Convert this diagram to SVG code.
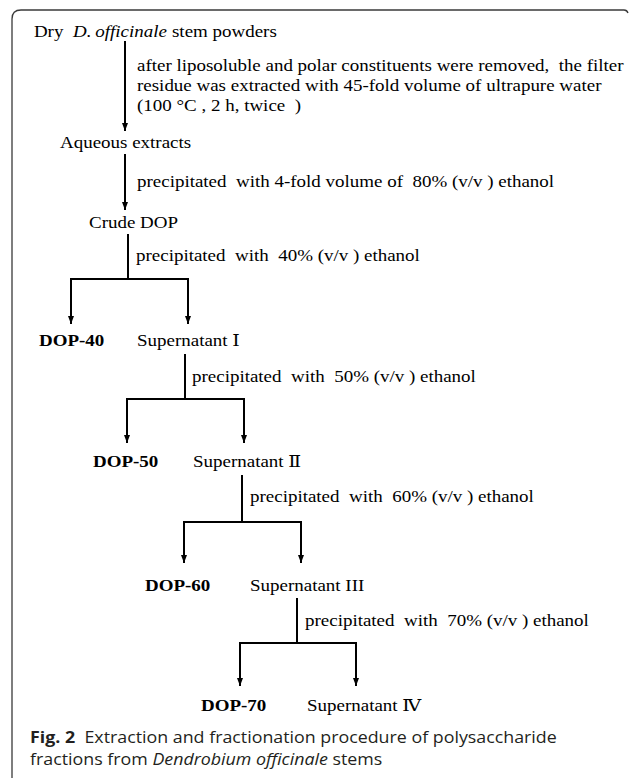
<svg xmlns="http://www.w3.org/2000/svg" width="629" height="778" viewBox="0 0 629 778" xml:space="preserve">
<style>
text{white-space:pre}
.t{font-family:"Liberation Serif","DejaVu Serif","Noto Sans CJK SC",serif;font-size:16.8px;fill:#000}
.b{font-weight:bold}
.i{font-style:italic}
.cap{font-family:"Open Sans","Liberation Sans",sans-serif;font-size:15.5px;fill:#231f20}
.ln{stroke:#000;stroke-width:2;fill:none}
.fr{stroke:#3a3a3a;stroke-width:1.3;fill:none}
</style>
<defs>
<marker id="ah" markerUnits="userSpaceOnUse" markerWidth="10" markerHeight="10" refX="8" refY="3" orient="auto">
<path d="M0,0 L8,3 L0,6 z" fill="#000"/>
</marker>
</defs>
<rect width="629" height="778" fill="#fff"/>
<path class="fr" d="M12,778 V19 Q12,10 21,10 H624 Q627,10 628,13"/>

<g id="connectors">
<line class="ln" x1="125" y1="41" x2="125" y2="131" marker-end="url(#ah)"/>
<line class="ln" x1="125" y1="154" x2="125" y2="210" marker-end="url(#ah)"/>
<line class="ln" x1="128" y1="234" x2="128" y2="279"/>
<line class="ln" x1="70" y1="279" x2="189" y2="279"/>
<line class="ln" x1="71" y1="278" x2="71" y2="324" marker-end="url(#ah)"/>
<line class="ln" x1="188" y1="278" x2="188" y2="324" marker-end="url(#ah)"/>
<line class="ln" x1="185" y1="354" x2="185" y2="399"/>
<line class="ln" x1="126" y1="399" x2="245" y2="399"/>
<line class="ln" x1="127" y1="398" x2="127" y2="443" marker-end="url(#ah)"/>
<line class="ln" x1="244" y1="398" x2="244" y2="443" marker-end="url(#ah)"/>
<line class="ln" x1="242" y1="475" x2="242" y2="522"/>
<line class="ln" x1="183" y1="522" x2="302" y2="522"/>
<line class="ln" x1="184" y1="521" x2="184" y2="563" marker-end="url(#ah)"/>
<line class="ln" x1="301" y1="521" x2="301" y2="563" marker-end="url(#ah)"/>
<line class="ln" x1="297" y1="598" x2="297" y2="643"/>
<line class="ln" x1="239" y1="643" x2="357" y2="643"/>
<line class="ln" x1="240" y1="642" x2="240" y2="686" marker-end="url(#ah)"/>
<line class="ln" x1="356" y1="642" x2="356" y2="686" marker-end="url(#ah)"/>
</g>

<g id="dry-powders"><text class="t" transform="translate(0,37) scale(1.13,1)"><tspan x="30">Dry</tspan><tspan x="64.6" class="i">D.</tspan><tspan x="84.3" class="i">officinale</tspan><tspan x="152.2">stem powders</tspan></text></g>
<g id="step1-label">
<text class="t" transform="translate(137,71) scale(1.13,1)">after liposoluble and polar constituents were removed,  the filter</text>
<text class="t" transform="translate(137,91) scale(1.13,1)">residue was extracted with 45-fold volume of ultrapure water</text>
<text class="t" transform="translate(137,111) scale(1.13,1)">(100 °C , 2 h, twice  )</text>
</g>
<g id="aqueous"><text class="t" transform="translate(60,148) scale(1.13,1)">Aqueous extracts</text></g>
<g id="step2-label"><text class="t" transform="translate(137,187) scale(1.13,1)">precipitated  with 4-fold volume of  80% (v/v ) ethanol</text></g>
<g id="crude"><text class="t" transform="translate(89,228) scale(1.13,1)">Crude DOP</text></g>
<g id="step3-label"><text class="t" transform="translate(136,261) scale(1.13,1)">precipitated  with  40% (v/v ) ethanol</text></g>
<g id="dop40"><text class="t b" transform="translate(39,346) scale(1.13,1)">DOP-40</text></g>
<g id="sup1"><text class="t" transform="translate(137,346) scale(1.13,1)">Supernatant Ⅰ</text></g>
<g id="step4-label"><text class="t" transform="translate(192,382) scale(1.13,1)">precipitated  with  50% (v/v ) ethanol</text></g>
<g id="dop50"><text class="t b" transform="translate(93,467) scale(1.13,1)">DOP-50</text></g>
<g id="sup2"><text class="t" transform="translate(193,467) scale(1.13,1)">Supernatant Ⅱ</text></g>
<g id="step5-label"><text class="t" transform="translate(250,502) scale(1.13,1)">precipitated  with  60% (v/v ) ethanol</text></g>
<g id="dop60"><text class="t b" transform="translate(145,591) scale(1.13,1)">DOP-60</text></g>
<g id="sup3"><text class="t" transform="translate(250,591) scale(1.13,1)">Supernatant III</text></g>
<g id="step6-label"><text class="t" transform="translate(305,626) scale(1.13,1)">precipitated  with  70% (v/v ) ethanol</text></g>
<g id="dop70"><text class="t b" transform="translate(201,711) scale(1.13,1)">DOP-70</text></g>
<g id="sup4"><text class="t" transform="translate(307,711) scale(1.13,1)">Supernatant Ⅳ</text></g>

<g id="caption">
<text class="cap" transform="translate(30,743) scale(1.15,1)"><tspan font-weight="bold">Fig. 2</tspan>  Extraction and fractionation procedure of polysaccharide</text>
<text class="cap" transform="translate(30,765) scale(1.15,1)">fractions from <tspan font-style="italic">Dendrobium officinale</tspan> stems</text>
</g>
</svg>
